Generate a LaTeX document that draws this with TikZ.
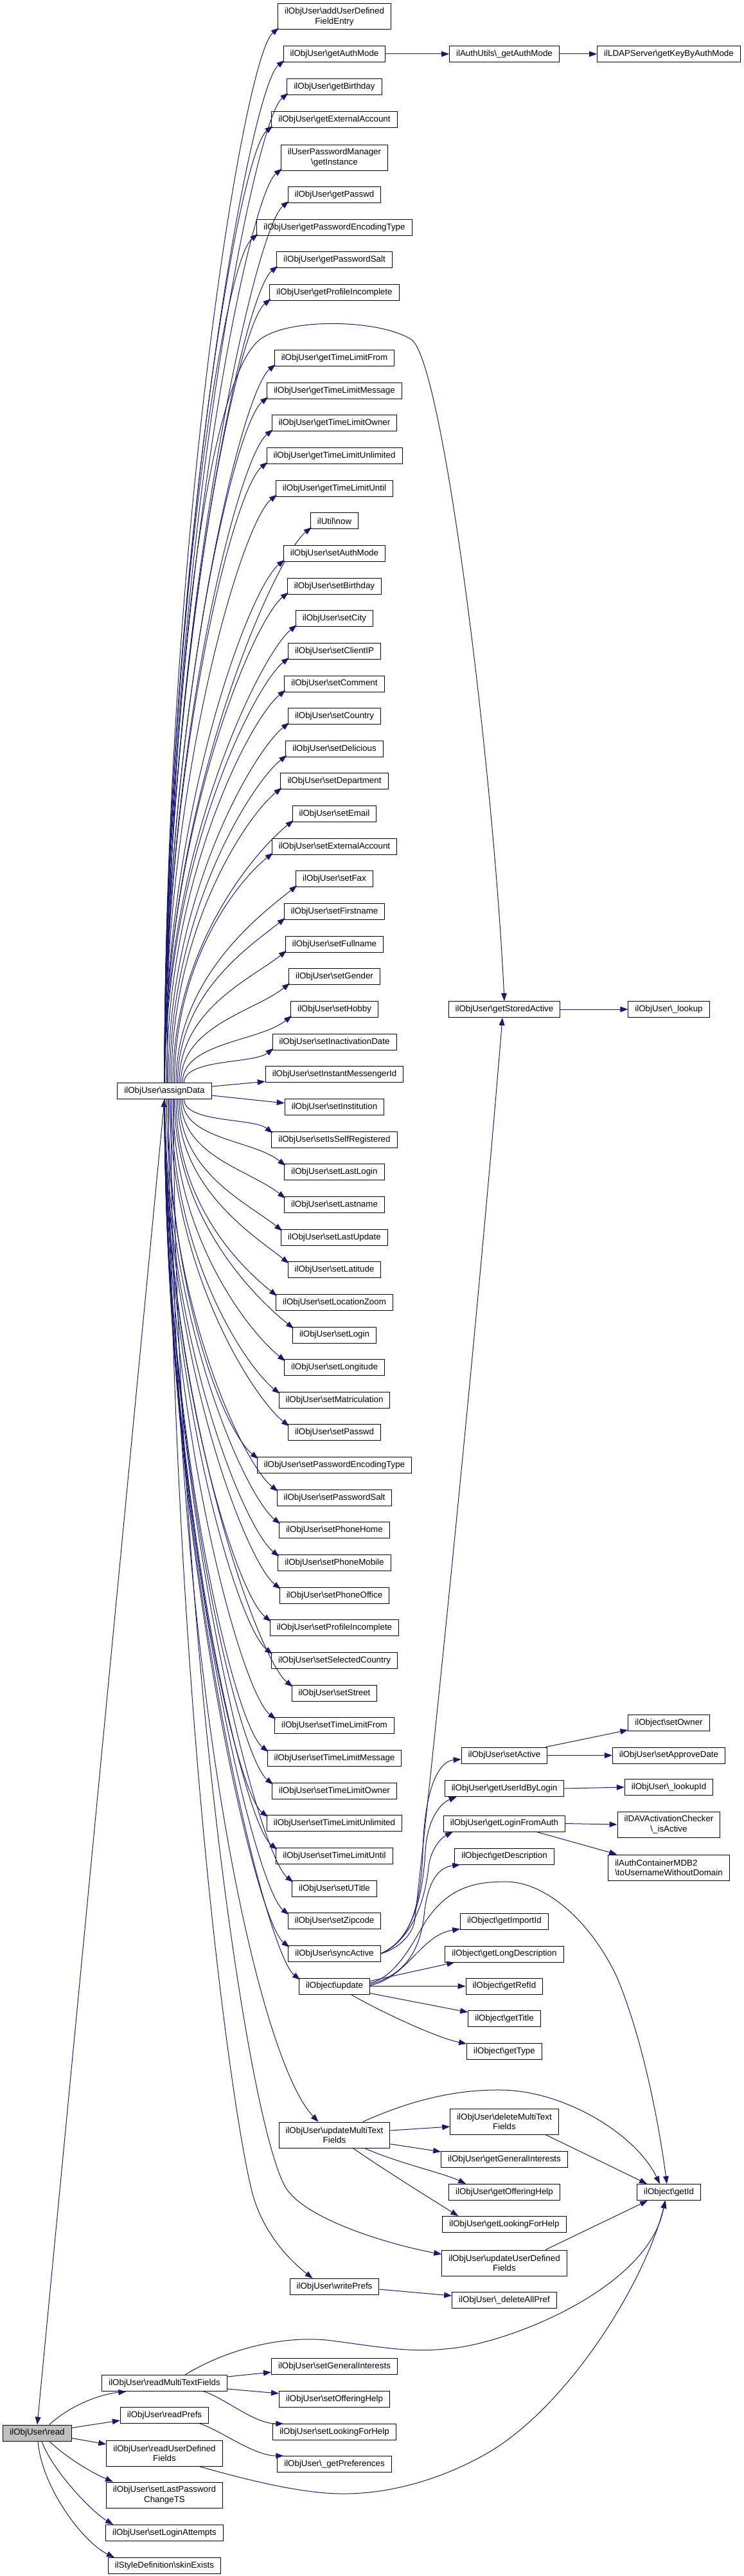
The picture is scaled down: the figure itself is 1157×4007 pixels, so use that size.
\documentclass[tikz,border=0pt]{standalone}
\usepackage{fontspec}
\setmainfont{Liberation Sans}
\usetikzlibrary{arrows.meta,calc}
\definecolor{mblue}{RGB}{25,25,112}
\definecolor{rootgray}{RGB}{191,191,191}
\newcommand\myBS{\textbackslash}
\tikzset{
  nd/.style={draw=black, line width=0.75pt, fill=white, font=\fontsize{10}{11.5}\selectfont,
    inner xsep=7.9pt, inner ysep=0pt, minimum height=18.75pt, align=center},
  nd2/.style={nd, minimum height=30pt},
  cg/.style={draw=mblue, line width=0.75pt, -{Triangle[length=9pt,width=6.5pt]}},
  cgboth/.style={draw=mblue, line width=0.75pt, {Triangle[length=9pt,width=6.5pt]}-{Triangle[length=9pt,width=6.5pt]}}
}
\newcommand\fanedge[2]{%
  \pgfmathsetmacro\fD{1697-#2}%
  \pgfmathsetmacro\fAbs{abs(\fD)}%
  \pgfmathsetmacro\fSx{256+34*max(0,1-\fAbs/700)}%
  \pgfmathsetmacro\fK{min(55,0.4*\fAbs)}%
  \pgfmathsetmacro\fC{0.5*\fD}%
  \ifdim\fD pt>0pt
    \draw[cg] (\fSx,-1684.5) .. controls +(0,\fC) and +(-\fK,-0.8*\fK) .. ($(#1.south west)+(2,3)$);%
  \else
    \draw[cg] (\fSx,-1709.5) .. controls +(0,\fC) and +(-\fK,0.8*\fK) .. ($(#1.north west)+(2,-3)$);%
  \fi}
\begin{document}
\begin{tikzpicture}[x=0.75pt,y=0.75pt]
\useasboundingbox (0,0) rectangle (1157,-4007);

% ---- column 0 / 1
\node[nd, fill=rootgray] (read) at (58,-3784.5) {ilObjUser\myBS read};
\node[nd] (assignData) at (256,-1697) {ilObjUser\myBS assignData};
\node[nd] (readMTF) at (256,-3707) {ilObjUser\myBS readMultiTextFields};
\node[nd] (readPrefs) at (256,-3757) {ilObjUser\myBS readPrefs};
\node[nd2] (readUDF) at (256,-3816) {ilObjUser\myBS readUserDefined\\Fields};
\node[nd2] (setLastPwd) at (256,-3881) {ilObjUser\myBS setLastPassword\\ChangeTS};
\node[nd] (setLoginAttempts) at (256,-3940) {ilObjUser\myBS setLoginAttempts};
\node[nd] (skinExists) at (256,-3991) {ilStyleDefinition\myBS skinExists};

% ---- column 2 (top)
\node[nd2] (addUDFE) at (520.5,-26) {ilObjUser\myBS addUserDefined\\FieldEntry};
\node[nd] (getAuthMode) at (520.5,-84) {ilObjUser\myBS getAuthMode};
\node[nd] (getBirthday) at (520.5,-135) {ilObjUser\myBS getBirthday};
\node[nd] (getExtAcc) at (520.5,-186) {ilObjUser\myBS getExternalAccount};
\node[nd2] (pwmInst) at (520.5,-245) {ilUserPasswordManager\\\myBS getInstance};
\node[nd] (getPasswd) at (520.5,-303) {ilObjUser\myBS getPasswd};
\node[nd] (getPwEnc) at (520.5,-354) {ilObjUser\myBS getPasswordEncodingType};
\node[nd] (getPwSalt) at (520.5,-404) {ilObjUser\myBS getPasswordSalt};
\node[nd] (getProfInc) at (520.5,-455) {ilObjUser\myBS getProfileIncomplete};

\foreach \nm/\yy in {addUDFE/26, getAuthMode/84, getBirthday/135, getExtAcc/186, pwmInst/245, getPasswd/303, getPwEnc/354, getPwSalt/404, getProfInc/455} {\fanedge{\nm}{\yy}}

% ---- column 2 (regular list)
\foreach \nm/\cls/\meth [count=\k from 0] in {
 gTLFrom/ilObjUser/getTimeLimitFrom,
 gTLMessage/ilObjUser/getTimeLimitMessage,
 gTLOwner/ilObjUser/getTimeLimitOwner,
 gTLUnlimited/ilObjUser/getTimeLimitUnlimited,
 gTLUntil/ilObjUser/getTimeLimitUntil,
 utilNow/ilUtil/now,
 sAuthMode/ilObjUser/setAuthMode,
 sBirthday/ilObjUser/setBirthday,
 sCity/ilObjUser/setCity,
 sClientIP/ilObjUser/setClientIP,
 sComment/ilObjUser/setComment,
 sCountry/ilObjUser/setCountry,
 sDelicious/ilObjUser/setDelicious,
 sDepartment/ilObjUser/setDepartment,
 sEmail/ilObjUser/setEmail,
 sExternalAccount/ilObjUser/setExternalAccount,
 sFax/ilObjUser/setFax,
 sFirstname/ilObjUser/setFirstname,
 sFullname/ilObjUser/setFullname,
 sGender/ilObjUser/setGender,
 sHobby/ilObjUser/setHobby,
 sInactivationDate/ilObjUser/setInactivationDate,
 sInstantMessengerId/ilObjUser/setInstantMessengerId,
 sInstitution/ilObjUser/setInstitution,
 sIsSelfRegistered/ilObjUser/setIsSelfRegistered,
 sLastLogin/ilObjUser/setLastLogin,
 sLastname/ilObjUser/setLastname,
 sLastUpdate/ilObjUser/setLastUpdate,
 sLatitude/ilObjUser/setLatitude,
 sLocationZoom/ilObjUser/setLocationZoom,
 sLogin/ilObjUser/setLogin,
 sLongitude/ilObjUser/setLongitude,
 sMatriculation/ilObjUser/setMatriculation,
 sPasswd/ilObjUser/setPasswd,
 sPasswordEncodingType/ilObjUser/setPasswordEncodingType,
 sPasswordSalt/ilObjUser/setPasswordSalt,
 sPhoneHome/ilObjUser/setPhoneHome,
 sPhoneMobile/ilObjUser/setPhoneMobile,
 sPhoneOffice/ilObjUser/setPhoneOffice,
 sProfileIncomplete/ilObjUser/setProfileIncomplete,
 sSelectedCountry/ilObjUser/setSelectedCountry,
 sStreet/ilObjUser/setStreet,
 sTLFrom/ilObjUser/setTimeLimitFrom,
 sTLMessage/ilObjUser/setTimeLimitMessage,
 sTLOwner/ilObjUser/setTimeLimitOwner,
 sTLUnlimited/ilObjUser/setTimeLimitUnlimited,
 sTLUntil/ilObjUser/setTimeLimitUntil,
 sUTitle/ilObjUser/setUTitle,
 sZipcode/ilObjUser/setZipcode,
 syncActive/ilObjUser/syncActive,
 objUpdate/ilObject/update} {
  \pgfmathsetmacro\yy{557+50.65*\k}
  \node[nd] (\nm) at (520.5,-\yy) {\cls\myBS\meth};
  \ifnum\k=22 \else\ifnum\k=23 \else \fanedge{\nm}{\yy}\fi\fi
}
\draw[cg] ($(assignData.east)+(0,7)$) -- ($(sInstantMessengerId.south west)+(0,2)$);
\draw[cg] ($(assignData.east)+(0,-7)$) -- ($(sInstitution.north west)+(0,-7)$);

% ---- column 2 (bottom)
\node[nd2] (updateMTF) at (520.5,-3321) {ilObjUser\myBS updateMultiText\\Fields};
\node[nd] (writePrefs) at (520.5,-3557) {ilObjUser\myBS writePrefs};
\node[nd] (setGenInt) at (520.5,-3681) {ilObjUser\myBS setGeneralInterests};
\node[nd] (setOffHelp) at (520.5,-3732) {ilObjUser\myBS setOfferingHelp};
\node[nd] (setLookHelp) at (520.5,-3783) {ilObjUser\myBS setLookingForHelp};
\node[nd] (getPrefs) at (520.5,-3833) {ilObjUser\myBS\_getPreferences};

% ---- column 3
\node[nd] (authGetAuthMode) at (785,-84) {ilAuthUtils\myBS\_getAuthMode};
\node[nd] (getStoredActive) at (785,-1570) {ilObjUser\myBS getStoredActive};
\node[nd] (setActive) at (785,-2730.5) {ilObjUser\myBS setActive};
\node[nd] (getUserIdByLogin) at (785,-2782) {ilObjUser\myBS getUserIdByLogin};
\node[nd] (getLoginFromAuth) at (785,-2836.5) {ilObjUser\myBS getLoginFromAuth};
\node[nd] (getDescription) at (785,-2887.5) {ilObject\myBS getDescription};
\node[nd] (getImportId) at (785,-2988.5) {ilObject\myBS getImportId};
\node[nd] (getLongDesc) at (785,-3039.5) {ilObject\myBS getLongDescription};
\node[nd] (getRefId) at (785,-3089.5) {ilObject\myBS getRefId};
\node[nd] (getTitle) at (785,-3140) {ilObject\myBS getTitle};
\node[nd] (getType) at (785,-3191) {ilObject\myBS getType};
\node[nd2] (deleteMTF) at (785,-3300) {ilObjUser\myBS deleteMultiText\\Fields};
\node[nd] (getGenInt) at (785,-3359) {ilObjUser\myBS getGeneralInterests};
\node[nd] (getOffHelp) at (785,-3410) {ilObjUser\myBS getOfferingHelp};
\node[nd] (getLookHelp) at (785,-3460) {ilObjUser\myBS getLookingForHelp};
\node[nd2] (updateUDF) at (785,-3520) {ilObjUser\myBS updateUserDefined\\Fields};
\node[nd] (deleteAllPref) at (785,-3578) {ilObjUser\myBS\_deleteAllPref};

% ---- column 4
\node[nd] (getKeyByAuthMode) at (1041,-84) {ilLDAPServer\myBS getKeyByAuthMode};
\node[nd] (lookup) at (1041,-1570) {ilObjUser\myBS\_lookup};
\node[nd] (setOwner) at (1041,-2680) {ilObject\myBS setOwner};
\node[nd] (setApproveDate) at (1041,-2730.5) {ilObjUser\myBS setApproveDate};
\node[nd] (lookupId) at (1041,-2780) {ilObjUser\myBS\_lookupId};
\node[nd2] (davIsActive) at (1041,-2838) {ilDAVActivationChecker\\\myBS\_isActive};
\node[nd2, align=left] (mdb2) at (1041,-2905) {ilAuthContainerMDB2\\\myBS toUsernameWithoutDomain};
\node[nd] (getId) at (1041,-3410) {ilObject\myBS getId};

% ---- simple chains
\draw[cg] (getAuthMode.east) -- (authGetAuthMode.west);
\draw[cg] (authGetAuthMode.east) -- (getKeyByAuthMode.west);
\draw[cg] (getStoredActive.east) -- (lookup.west);

% assignData -> getStoredActive (arc over the top)
\draw[cg] (260,-1684.5) .. controls (262,-1000) and (330,-600) .. (400,-532)
  .. controls (440,-493) and (590,-496) .. (640,-528)
  .. controls (690,-560) and (768,-1200) .. (getStoredActive.north);

% syncActive edges
\draw[cg] (syncActive.east) .. controls (625,-3030) and (642,-3005) .. (645,-2990)
  .. controls (662,-2850) and (740,-2100) .. ($(getStoredActive.south)+(-3,0)$);
\draw[cg] (syncActive.east) .. controls (640,-3020) and (655,-2960) .. (658,-2883)
  .. controls (660,-2790) and (680,-2740) .. ($(setActive.west)+(0,-6)$);
\draw[cg] (syncActive.east) .. controls (642,-3018) and (658,-2950) .. (662,-2880)
  .. controls (665,-2830) and (685,-2805) .. ($(getUserIdByLogin.south west)+(19,0)$);
\draw[cg] (syncActive.east) .. controls (645,-3015) and (662,-2950) .. (667,-2905)
  .. controls (670,-2875) and (688,-2858) .. ($(getLoginFromAuth.south west)+(15,0)$);

% update edges
\draw[cg] ($(objUpdate.east)+(0,3)$) .. controls (640,-3070) and (655,-3020) .. (660,-2980)
  .. controls (665,-2930) and (680,-2905) .. ($(getDescription.south west)+(9,0)$);
\draw[cg] ($(objUpdate.east)+(0,1)$) .. controls (635,-3075) and (655,-3010) .. ($(getImportId.south west)+(0,1)$);
\draw[cg] ($(objUpdate.east)+(0,8)$) -- ($(getLongDesc.south west)+(15,0)$);
\draw[cg] (objUpdate.east) -- (getRefId.west);
\draw[cg] ($(objUpdate.south east)+(0,2)$) -- ($(getTitle.north west)+(0,-3)$);
\draw[cg] ($(objUpdate.south)+(26,0)$) .. controls (590,-3128) and (680,-3170) .. ($(getType.north west)+(0,-1)$);
\draw[cg] ($(objUpdate.east)+(0,5)$) .. controls (620,-3075) and (648,-3010) .. (665,-2985)
  .. controls (700,-2935) and (740,-2927) .. (787,-2927)
  .. controls (850,-2927) and (920,-2990) .. (960,-3075)
  .. controls (1000,-3170) and (1025,-3300) .. ($(getId.north)+(-3,0)$);

% setActive / getUserIdByLogin / getLoginFromAuth
\draw[cg] ($(setActive.north east)+(-3,0)$) -- ($(setOwner.south west)+(0,2)$);
\draw[cg] (setActive.east) -- (setApproveDate.west);
\draw[cg] (getUserIdByLogin.east) -- (lookupId.west);
\draw[cg] (getLoginFromAuth.east) -- (davIsActive.west);
\draw[cg] ($(getLoginFromAuth.south)+(50,0)$) -- ($(mdb2.north west)+(14,0)$);

% updateMultiTextFields edges
\draw[cg] ($(updateMTF.east)+(0,7)$) -- ($(deleteMTF.west)+(0,-8)$);
\draw[cg] ($(updateMTF.east)+(0,-14)$) -- ($(getGenInt.north west)+(0,-1)$);
\draw[cg] ($(updateMTF.south)+(47,0)$) .. controls (620,-3365) and (690,-3380) .. ($(getOffHelp.north west)+(27,0)$);
\draw[cg] ($(updateMTF.south)+(29,0)$) .. controls (590,-3370) and (670,-3420) .. ($(getLookHelp.north west)+(25,0)$);
\draw[cg] ($(updateMTF.north)+(44,0)$) .. controls (650,-3262) and (720,-3250) .. (782,-3251)
  .. controls (880,-3253) and (990,-3320) .. ($(getId.north)+(-14,0)$);
\draw[cg] ($(deleteMTF.south)+(64,0)$) -- ($(getId.north west)+(16,0)$);
\draw[cg] ($(updateUDF.north)+(64,0)$) -- ($(getId.south west)+(17,0)$);
\draw[cg] ($(writePrefs.east)+(0,-4)$) -- ($(deleteAllPref.west)+(0,7)$);

% assignData -> long edges below
\draw[cg] (266,-1709.5) .. controls (266,-2600) and (400,-3200) .. ($(updateMTF.north west)+(62,0)$);
\draw[cg] (262,-1709.5) .. controls (268,-2600) and (355,-3250) .. (390,-3400)
  .. controls (405,-3470) and (450,-3515) .. ($(writePrefs.north west)+(36,0)$);
\draw[cg] (270,-1709.5) .. controls (272,-2500) and (380,-3280) .. (443,-3400)
  .. controls (470,-3450) and (600,-3490) .. ($(updateUDF.north west)+(0,-7)$);

% read edges
\draw[cgboth] (read.north) -- (assignData.south);
\draw[cg] ($(read.north)+(19,0)$) .. controls (105,-3745) and (150,-3725) .. ($(readMTF.south west)+(38,0)$);
\draw[cg] ($(read.east)+(0,8)$) -- ($(readPrefs.west)+(0,-8)$);
\draw[cg] ($(read.east)+(0,-8)$) -- ($(readUDF.west)+(0,14)$);
\draw[cg] ($(read.south)+(19,0)$) .. controls (100,-3820) and (140,-3845) .. ($(setLastPwd.north west)+(11,0)$);
\draw[cg] ($(read.south)+(7,0)$) .. controls (80,-3840) and (140,-3905) .. ($(setLoginAttempts.north west)+(12,0)$);
\draw[cg] ($(read.south)+(1,0)$) .. controls (65,-3870) and (130,-3955) .. ($(skinExists.north west)+(10,0)$);

% readMultiTextFields / readPrefs / readUserDefinedFields
\draw[cg] ($(readMTF.east)+(0,10)$) -- ($(setGenInt.west)+(0,-9)$);
\draw[cg] ($(readMTF.east)+(0,-9)$) -- ($(setOffHelp.west)+(0,9)$);
\draw[cg] ($(readMTF.south)+(61,0)$) .. controls (350,-3730) and (395,-3770) .. ($(setLookHelp.north west)+(17,0)$);
\draw[cg] ($(readPrefs.south)+(55,0)$) .. controls (343,-3780) and (395,-3820) .. ($(getPrefs.north west)+(10,0)$);
\draw[cg] ($(readMTF.north)+(32,0)$) .. controls (360,-3650) and (450,-3632) .. (517,-3641)
  .. controls (600,-3652) and (640,-3660) .. (701,-3653)
  .. controls (790,-3645) and (1010,-3560) .. ($(getId.south)+(-6,0)$);
\draw[cg] ($(readUDF.south)+(54,0)$) .. controls (400,-3862) and (480,-3880) .. (539,-3879)
  .. controls (620,-3878) and (700,-3850) .. (760,-3815)
  .. controls (880,-3745) and (1000,-3560) .. ($(getId.south)+(-5,0)$);
\end{tikzpicture}
\end{document}
